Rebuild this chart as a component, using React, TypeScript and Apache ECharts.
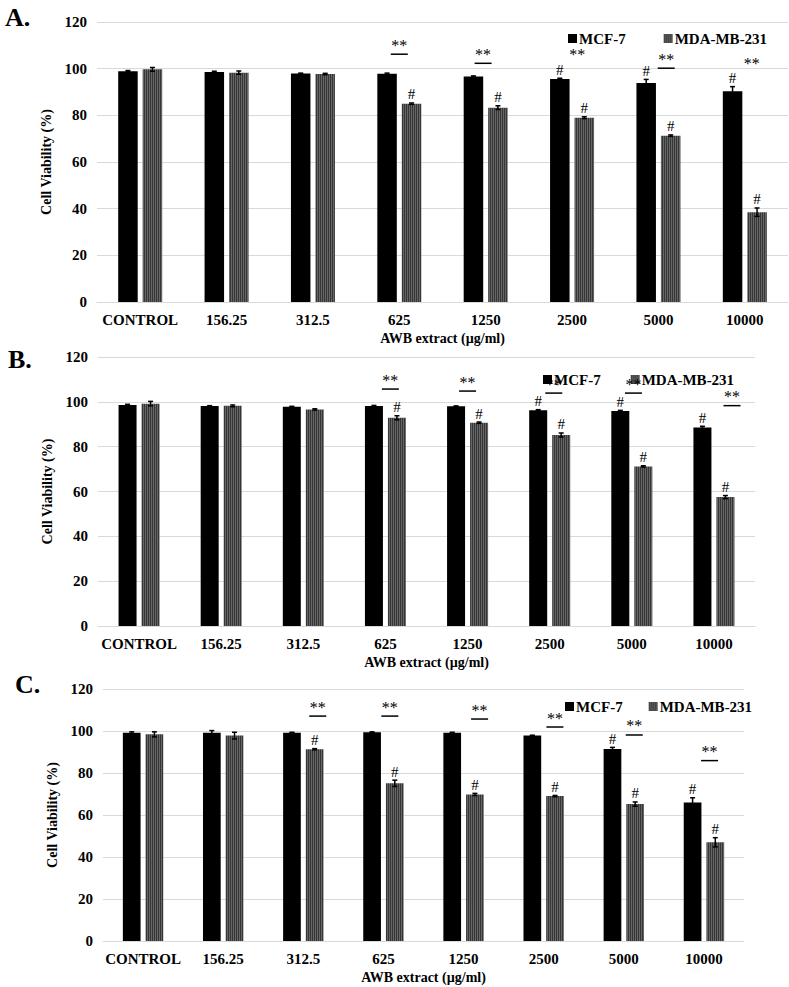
import React, { useEffect, useRef } from "react";
import * as echarts from "echarts";

const categories = ["CONTROL", "156.25", "312.5", "625", "1250", "2500", "5000", "10000"];
const yTicks = { min: 0, max: 120, interval: 20 };
const seriesNames = ["MCF-7", "MDA-MB-231"];
const panelLabels = ["A.", "B.", "C."];
const xTitle = "AWB extract (µg/ml)";
const yTitle = "Cell Viability (%)";

// Panel A
const A_mcf7 = [98.9, 98.6, 97.9, 97.8, 96.6, 95.6, 93.9, 90.3];
const A_mcf7Err = [0.3, 0.3, 0.2, 0.3, 0.3, 0.3, 1.5, 2.0];
const A_mda = [99.7, 98.3, 97.7, 85.0, 83.3, 79.0, 71.3, 38.5];
const A_mdaErr = [0.8, 0.7, 0.3, 0.3, 0.8, 0.4, 0.3, 1.8];
const A_mcf7Hash = [0, 0, 0, 0, 0, 1, 1, 1];
const A_mdaHash = [0, 0, 0, 1, 1, 1, 1, 1];
const A_starCats = ["625", "1250", "2500", "5000", "10000"];
const A_starLevels = [106.2, 102.3, 102.3, 100.2, 98.5];
const A_starLines = [1, 1, 0, 1, 0];

// Panel B
const B_mcf7 = [98.6, 98.1, 97.8, 98.1, 98.0, 96.2, 95.9, 88.6];
const B_mcf7Err = [0.3, 0.2, 0.2, 0.3, 0.2, 0.3, 0.3, 0.5];
const B_mda = [99.2, 98.2, 96.6, 92.9, 90.7, 85.2, 71.2, 57.5];
const B_mdaErr = [1.0, 0.4, 0.3, 0.9, 0.3, 0.9, 0.3, 0.7];
const B_mcf7Hash = [0, 0, 0, 0, 0, 1, 1, 1];
const B_mdaHash = [0, 0, 0, 1, 1, 1, 1, 1];
const B_starCats = ["625", "1250", "2500", "5000", "10000"];
const B_starLevels = [105.7, 104.8, 103.9, 103.9, 98.3];
const B_starLines = [1, 1, 1, 1, 1];

// Panel C
const C_mcf7 = [99.2, 99.2, 99.2, 99.4, 99.2, 97.8, 91.4, 65.9];
const C_mcf7Err = [0.4, 1.0, 0.2, 0.2, 0.2, 0.2, 0.8, 2.3];
const C_mda = [98.4, 97.8, 91.3, 75.1, 69.8, 69.0, 65.2, 47.0];
const C_mdaErr = [1.2, 1.6, 0.3, 1.5, 0.5, 0.3, 1.0, 2.2];
const C_mcf7Hash = [0, 0, 0, 0, 0, 0, 1, 1];
const C_mdaHash = [0, 0, 1, 1, 1, 1, 1, 1];
const C_starCats = ["312.5", "625", "1250", "2500", "5000", "10000"];
const C_starLevels = [107.1, 107.1, 105.7, 101.9, 98.1, 85.9];
const C_starLines = [1, 1, 1, 1, 1, 1];

const panels = [
  { mcf7: A_mcf7, mcf7Err: A_mcf7Err, mda: A_mda, mdaErr: A_mdaErr, mcf7Hash: A_mcf7Hash, mdaHash: A_mdaHash, starCats: A_starCats, starLevels: A_starLevels, starLines: A_starLines },
  { mcf7: B_mcf7, mcf7Err: B_mcf7Err, mda: B_mda, mdaErr: B_mdaErr, mcf7Hash: B_mcf7Hash, mdaHash: B_mdaHash, starCats: B_starCats, starLevels: B_starLevels, starLines: B_starLines },
  { mcf7: C_mcf7, mcf7Err: C_mcf7Err, mda: C_mda, mdaErr: C_mdaErr, mcf7Hash: C_mcf7Hash, mdaHash: C_mdaHash, starCats: C_starCats, starLevels: C_starLevels, starLines: C_starLines },
];

// layout / style (not data)
const layout = [
  { left: 97, top: 22, width: 691, height: 280, bw: 19.5, gap: 5, letter: [5, 4], legend: { left: 563, top: 26, gap: 38 }, starDx: [0, -0.03, 0.06, 0.09, 0.08] },
  { left: 98, top: 357, width: 657, height: 269, bw: 18, gap: 5, letter: [8, 346], legend: { left: 538, top: 367, gap: 30 }, starDx: [0.06, 0, 0.05, 0.02, 0.22] },
  { left: 103, top: 689, width: 641, height: 252, bw: 17.7, gap: 5, letter: [15, 671], legend: { left: 560, top: 694, gap: 26 }, starDx: [0.18, 0.08, 0.2, 0.14, 0.13, 0.07] },
];

const FONT = "Liberation Serif, Times New Roman, serif";
const GRID_COLOR = "#d9d9d9";

function makePattern() {
  const c = document.createElement("canvas");
  c.width = 2;
  c.height = 4;
  const ctx = c.getContext("2d")!;
  ctx.fillStyle = "#363636";
  ctx.fillRect(0, 0, 1, 4);
  ctx.fillStyle = "#666666";
  ctx.fillRect(1, 0, 1, 4);
  return { image: c, repeat: "repeat", imageWidth: 2, imageHeight: 4 } as any;
}

export default function App() {
  const ref = useRef<HTMLDivElement>(null);
  useEffect(() => {
    if (!ref.current) return;
    const chart = echarts.init(ref.current, null, { renderer: "svg" });
    const pattern = makePattern();

    const grids: any[] = [];
    const xAxes: any[] = [];
    const yAxes: any[] = [];
    const legends: any[] = [];
    const series: any[] = [];
    const graphics: any[] = [];

    panels.forEach((p, i) => {
      const L = layout[i];
      grids.push({ left: L.left, top: L.top, width: L.width, height: L.height, containLabel: false });
      xAxes.push({
        type: "category",
        gridIndex: i,
        data: categories,
        axisTick: { show: false },
        axisLine: { lineStyle: { color: GRID_COLOR, width: 1 } },
        axisLabel: { interval: 0, color: "#000", fontFamily: FONT, fontWeight: "bold", fontSize: 15, margin: 10 },
        name: xTitle,
        nameLocation: "middle",
        nameGap: 29,
        nameTextStyle: { color: "#000", fontFamily: FONT, fontWeight: "bold", fontSize: 14 },
      });
      yAxes.push({
        type: "value",
        gridIndex: i,
        min: yTicks.min,
        max: yTicks.max,
        interval: yTicks.interval,
        axisLine: { show: false },
        axisTick: { show: false },
        splitLine: { lineStyle: { color: GRID_COLOR, width: 1 } },
        axisLabel: { color: "#000", fontFamily: FONT, fontWeight: "bold", fontSize: 15, margin: 10 },
        name: yTitle,
        nameLocation: "middle",
        nameGap: 42,
        nameTextStyle: { color: "#000", fontFamily: FONT, fontWeight: "bold", fontSize: 14 },
      });
      legends.push({
        data: seriesNames,
        left: L.legend.left,
        top: L.legend.top,
        itemWidth: 9,
        itemHeight: 9,
        itemGap: L.legend.gap,
        icon: "rect",
        selectedMode: false,
        textStyle: { color: "#000", fontFamily: FONT, fontWeight: "bold", fontSize: 15, padding: [0, 0, 0, -3] },
      });
      const gapPct = ((L.gap / L.bw) * 100).toFixed(1) + "%";
      series.push({
        name: seriesNames[0],
        type: "bar",
        xAxisIndex: i,
        yAxisIndex: i,
        data: p.mcf7,
        barWidth: L.bw,
        barGap: gapPct,
        itemStyle: { color: "#000" },
      });
      series.push({
        name: seriesNames[1],
        type: "bar",
        xAxisIndex: i,
        yAxisIndex: i,
        data: p.mda,
        barWidth: L.bw,
        barGap: gapPct,
        itemStyle: { color: pattern },
      });
      const offset = (L.bw + L.gap) / 2;
      const errSeries = (vals: number[], errs: number[], hashes: number[], off: number) => ({
        type: "custom",
        xAxisIndex: i,
        yAxisIndex: i,
        z: 5,
        silent: true,
        itemStyle: { color: "#000" },
        data: vals.map((v, k) => [k, v, errs[k], hashes[k]]),
        encode: { x: 0, y: 1 },
        renderItem: (_params: any, api: any) => {
          const idx = api.value(0);
          const v = api.value(1);
          const e = api.value(2);
          const h = api.value(3);
          const c = api.coord([idx, v]);
          const top = api.coord([idx, v + e])[1];
          const bot = api.coord([idx, v - e])[1];
          const x = c[0] + off;
          const st = { stroke: "#000", lineWidth: 1.5 };
          const children: any[] = [
            { type: "line", shape: { x1: x, y1: top, x2: x, y2: bot }, style: st },
            { type: "line", shape: { x1: x - 2.5, y1: top, x2: x + 2.5, y2: top }, style: st },
            { type: "line", shape: { x1: x - 2.5, y1: bot, x2: x + 2.5, y2: bot }, style: st },
          ];
          if (h) {
            children.push({
              type: "text",
              style: { text: "#", x, y: top - 1, align: "center", verticalAlign: "bottom", fontFamily: FONT, fontSize: 15, fill: "#000" },
            });
          }
          return { type: "group", children };
        },
      });
      series.push(errSeries(p.mcf7, p.mcf7Err, p.mcf7Hash, -offset));
      series.push(errSeries(p.mda, p.mdaErr, p.mdaHash, offset));
      series.push({
        type: "custom",
        xAxisIndex: i,
        yAxisIndex: i,
        z: 6,
        silent: true,
        itemStyle: { color: "#000" },
        data: p.starCats.map((cat, k) => [categories.indexOf(cat), p.starLevels[k], p.starLines[k], L.starDx[k]]),
        encode: { x: 0, y: 1 },
        renderItem: (_params: any, api: any) => {
          const idx = api.value(0);
          const lvl = api.value(1);
          const hasLine = api.value(2);
          const dx = api.value(3);
          const c = api.coord([idx, lvl]);
          const band = api.size([1, 0])[0];
          const x = c[0] + dx * band;
          const children: any[] = [
            {
              type: "text",
              style: { text: "**", x, y: c[1] - 1, align: "center", verticalAlign: "bottom", fontFamily: FONT, fontSize: 16, fill: "#000" },
            },
          ];
          if (hasLine) {
            children.push({ type: "line", shape: { x1: x - 8.5, y1: c[1], x2: x + 8.5, y2: c[1] }, style: { stroke: "#000", lineWidth: 1.5 } });
          }
          return { type: "group", children };
        },
      });
      graphics.push({
        type: "text",
        left: L.letter[0],
        top: L.letter[1],
        style: { text: panelLabels[i], fontFamily: FONT, fontWeight: "bold", fontSize: 26, fill: "#000" },
      });
    });

    chart.setOption({
      animation: false,
      backgroundColor: "#fff",
      grid: grids,
      xAxis: xAxes,
      yAxis: yAxes,
      legend: legends,
      series,
      graphic: graphics,
    });
    return () => chart.dispose();
  }, []);
  return <div ref={ref} style={{ position: "absolute", left: 0, top: 0, width: 789, height: 987 }} />;
}
